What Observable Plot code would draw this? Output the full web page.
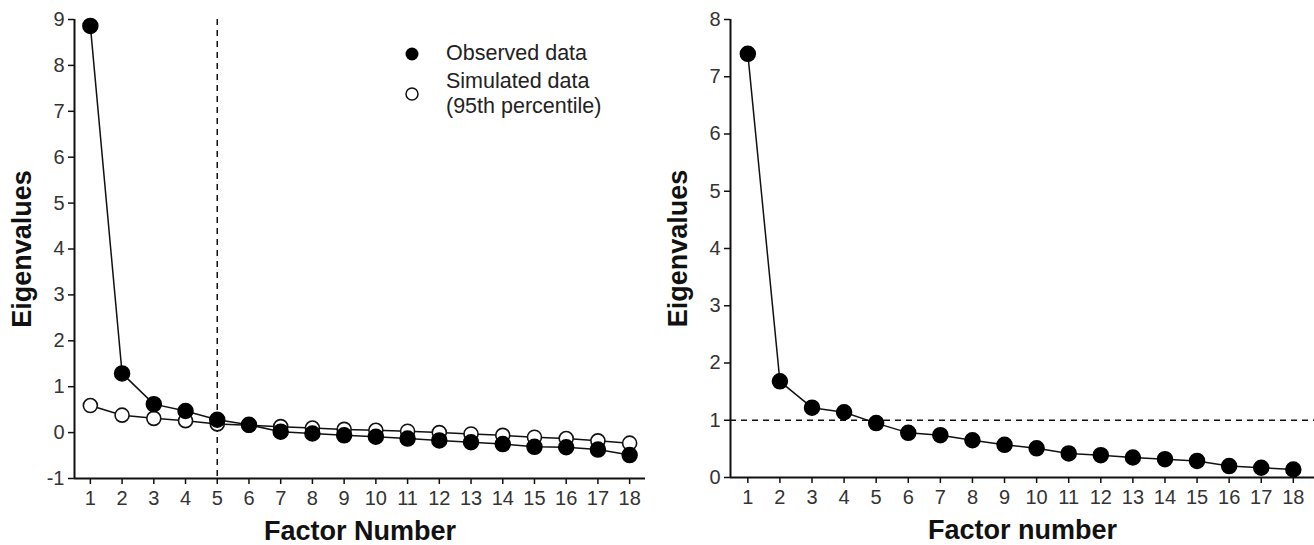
<!DOCTYPE html>
<html>
<head>
<meta charset="utf-8">
<script src="https://cdn.jsdelivr.net/npm/d3@7"></script>
<script src="https://cdn.jsdelivr.net/npm/@observablehq/plot@0.6"></script>
<style>
  html, body { margin: 0; padding: 0; background: #fff; }
  #wrap { position: relative; width: 1314px; height: 545px; display: flex; font-family: "Liberation Sans", Arial, sans-serif; }
  .legend { position: absolute; left: 400px; top: 41px; font-size: 21.5px; color: #222; line-height: 25px; }
  .legend .row { display: flex; align-items: center; margin-bottom: 3px; }
  .legend svg { width: 24px; height: 24px; margin-right: 22px; }
</style>
</head>
<body>
<div id="wrap"></div>
<script>
// Factor numbers
const factors = [1,2,3,4,5,6,7,8,9,10,11,12,13,14,15,16,17,18];
// Left panel: parallel analysis
const observedLeft = [8.86,1.29,0.62,0.47,0.28,0.17,0.02,-0.02,-0.06,-0.09,-0.13,-0.17,-0.21,-0.25,-0.31,-0.32,-0.37,-0.49];
const simulatedLeft = [0.59,0.38,0.31,0.26,0.19,0.16,0.13,0.10,0.07,0.05,0.03,0.00,-0.03,-0.06,-0.10,-0.13,-0.18,-0.23];
// Right panel: scree plot
const observedRight = [7.40,1.68,1.22,1.14,0.95,0.78,0.74,0.65,0.57,0.51,0.42,0.39,0.35,0.32,0.29,0.20,0.17,0.14];
const yTicksLeft = [-1,0,1,2,3,4,5,6,7,8,9];
const yTicksRight = [0,1,2,3,4,5,6,7,8];
const leftCutoff = [5];
const rightCutoff = [1];
const legendLabels = ["Observed data", "Simulated data<br>(95th percentile)"];

const obsL = factors.map((f, i) => ({f, v: observedLeft[i]}));
const simL = factors.map((f, i) => ({f, v: simulatedLeft[i]}));
const obsR = factors.map((f, i) => ({f, v: observedRight[i]}));

const font = "Liberation Sans, Arial, sans-serif";
const tickColor = "#333";
const fmt = d => String(d);

function panel({xDomain, yDomain, yTicks, marginLeft, marginRight, marginTop, marginBottom, xTitle, marks}) {
  return Plot.plot({
    width: 657,
    height: 545,
    marginLeft, marginRight, marginTop, marginBottom,
    style: {fontFamily: font, background: "white", overflow: "visible"},
    x: {domain: xDomain},
    y: {domain: yDomain},
    marks: [
      Plot.axisX(factors, {tickSize: 6, tickFormat: () => "", stroke: "#111", strokeWidth: 1.5, label: null}),
      Plot.axisY(yTicks, {tickSize: 6, tickFormat: () => "", stroke: "#111", strokeWidth: 1.5, label: null}),
      Plot.text(factors, {x: d => d, frameAnchor: "bottom", lineAnchor: "top", textAnchor: "middle", dy: 12, fontSize: 20, fill: tickColor, text: fmt}),
      Plot.text(yTicks, {y: d => d, frameAnchor: "left", lineAnchor: "middle", textAnchor: "end", dx: -10, fontSize: 20, fill: tickColor, text: fmt}),
      Plot.ruleX([xDomain[0]], {stroke: "#111", strokeWidth: 2}),
      Plot.ruleY([yDomain[0]], {stroke: "#111", strokeWidth: 2}),
      ...marks,
      Plot.text([xTitle], {frameAnchor: "bottom", lineAnchor: "middle", textAnchor: "middle", dy: 53, fontSize: 27, fontWeight: "bold", fill: "#111", text: d => d}),
      Plot.text(["Eigenvalues"], {frameAnchor: "left", lineAnchor: "middle", textAnchor: "middle", dx: -52, rotate: -90, fontSize: 27, fontWeight: "bold", fill: "#111", text: d => d})
    ]
  });
}

const left = panel({
  xDomain: [0.5, 18.5], yDomain: [-1, 9], yTicks: yTicksLeft,
  marginLeft: 74, marginRight: 12, marginTop: 19, marginBottom: 67,
  xTitle: "Factor Number",
  marks: [
    Plot.ruleX(leftCutoff, {stroke: "#111", strokeWidth: 1.5, strokeDasharray: "6,5"}),
    Plot.line(simL, {x: "f", y: "v", stroke: "#111", strokeWidth: 1.5}),
    Plot.dot(simL, {x: "f", y: "v", r: 7, fill: "white", stroke: "#111", strokeWidth: 1.6}),
    Plot.line(obsL, {x: "f", y: "v", stroke: "#111", strokeWidth: 1.5}),
    Plot.dot(obsL, {x: "f", y: "v", r: 7.5, fill: "#000", stroke: "#000"})
  ]
});

const right = panel({
  xDomain: [0.46, 18.66], yDomain: [0, 8], yTicks: yTicksRight,
  marginLeft: 73, marginRight: 0, marginTop: 19, marginBottom: 68,
  xTitle: "Factor number",
  marks: [
    Plot.ruleY(rightCutoff, {stroke: "#111", strokeWidth: 1.5, strokeDasharray: "6,5"}),
    Plot.line(obsR, {x: "f", y: "v", stroke: "#111", strokeWidth: 1.5}),
    Plot.dot(obsR, {x: "f", y: "v", r: 7.5, fill: "#000", stroke: "#000"})
  ]
});

const wrap = document.getElementById("wrap");
wrap.appendChild(left);
wrap.appendChild(right);

const legend = document.createElement("div");
legend.className = "legend";
legend.innerHTML = `
  <div class="row"><svg viewBox="0 0 24 24"><circle cx="12" cy="12" r="6.5" fill="#000"/></svg><span>${legendLabels[0]}</span></div>
  <div class="row"><svg viewBox="0 0 24 24"><circle cx="12" cy="12" r="6" fill="#fff" stroke="#111" stroke-width="1.5"/></svg><span>${legendLabels[1]}</span></div>`;
wrap.appendChild(legend);
</script>
</body>
</html>
